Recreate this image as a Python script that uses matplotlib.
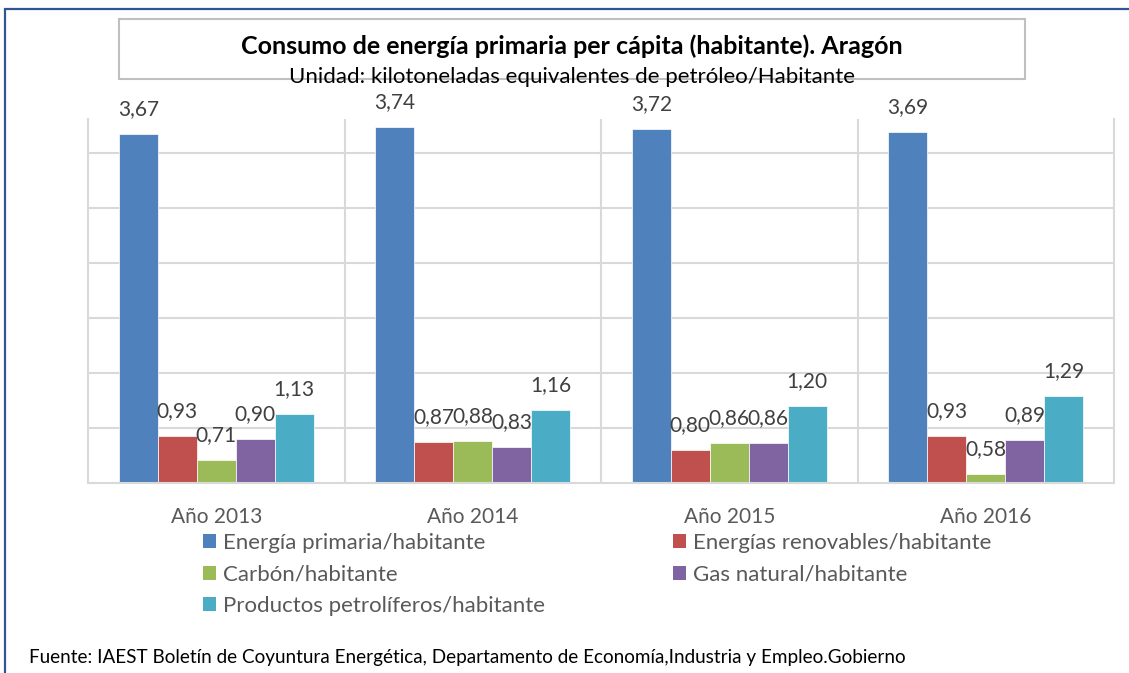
import matplotlib
matplotlib.use('Agg')
import matplotlib.pyplot as plt
from matplotlib.patches import Rectangle, Patch
import numpy as np

# data
years = ['Año 2013', 'Año 2014', 'Año 2015', 'Año 2016']
series_names = ['Energía primaria/habitante', 'Energías renovables/habitante',
                'Carbón/habitante', 'Gas natural/habitante',
                'Productos petrolíferos/habitante']
primaria = [3.67, 3.74, 3.72, 3.69]
renovables = [0.93, 0.87, 0.80, 0.93]
carbon = [0.71, 0.88, 0.86, 0.58]
gas = [0.90, 0.83, 0.86, 0.89]
petroleo = [1.13, 1.16, 1.20, 1.29]
colors = ['#4f81bd', '#c0504d', '#9bbb59', '#8064a2', '#4bacc6']

plt.rcParams['font.family'] = ['Lato', 'DejaVu Sans']

W, H = 1129, 673
fig = plt.figure(figsize=(W / 100, H / 100), dpi=100)
fig.patch.set_facecolor('white')

# outer blue frame (only left and top visible in the image)
fig.patches.append(Rectangle((5 / W, -0.1), 1.2, 1.1 - 9 / H, transform=fig.transFigure,
                             fill=False, edgecolor='#2f5597', lw=1.6, zorder=0))
# title box
fig.patches.append(Rectangle((119 / W, 1 - 79 / H), (1025 - 119) / W, 60 / H,
                             transform=fig.transFigure, fill=False,
                             edgecolor='#bfbfbf', lw=1.5, zorder=1))
fig.text(572 / W, 1 - 54 / H, 'Consumo de energía primaria per cápita (habitante). Aragón',
         ha='center', va='baseline', fontsize=18, fontweight='bold', color='black')
fig.text(572 / W, 1 - 83 / H, 'Unidad: kilotoneladas equivalentes de petróleo/Habitante',
         ha='center', va='baseline', fontsize=16, color='black', zorder=3)

ax = fig.add_axes([88 / W, (H - 483) / H, (1114 - 88) / W, (483 - 119) / H])
ax.set_facecolor('none')

x = np.arange(len(years))
width = 0.152
all_series = [primaria, renovables, carbon, gas, petroleo]
for i, (vals, c) in enumerate(zip(all_series, colors)):
    pos = x + (i - 2) * width
    ax.bar(pos, vals, width, color=c, edgecolor='white', linewidth=0.5, zorder=2)
    for px, v in zip(pos, vals):
        ax.annotate(f'{v:.2f}'.replace('.', ','), (px, v), xytext=(0, 19),
                    textcoords='offset pixels', ha='center', va='baseline',
                    fontsize=15, color='#404040', zorder=4, annotation_clip=False)

ax.set_xlim(-0.5, 3.5)
ax.set_ylim(0.5, 3.81)
ax.set_yticks([1.0, 1.5, 2.0, 2.5, 3.0, 3.5])
ax.yaxis.grid(True, color='#d9d9d9', lw=1.5, zorder=0)
ax.tick_params(axis='y', length=0, labelleft=False)
for xv in [0.5, 1.5, 2.5]:
    ax.axvline(xv, color='#d9d9d9', lw=1.5, zorder=0)
for side in ['left', 'right', 'bottom']:
    ax.spines[side].set_color('#d9d9d9')
    ax.spines[side].set_linewidth(1.5)
ax.spines['top'].set_visible(False)
ax.set_xticks(x)
ax.set_xticklabels(years, fontsize=15, color='#595959')
ax.tick_params(axis='x', length=0, pad=17)

order = [0, 2, 4, 1, 3]
handles = [Patch(facecolor=colors[k], edgecolor='none') for k in order]
labels = [series_names[k] for k in order]
fig.legend(handles, labels, ncol=2, loc='upper left',
           bbox_to_anchor=(203 / W, 1 - 533 / H), frameon=False, borderaxespad=0,
           fontsize=16, labelcolor='#595959', handlelength=0.59, handleheight=0.59,
           handletextpad=0.31, columnspacing=5.77, labelspacing=0.52, borderpad=0)

fig.text(29 / W, 1 - 663 / H,
         'Fuente: IAEST Boletín de Coyuntura Energética, Departamento de Economía,Industria y Empleo.Gobierno',
         ha='left', va='baseline', fontsize=13.6, color='black')

fig.savefig('out.png', dpi=100)
